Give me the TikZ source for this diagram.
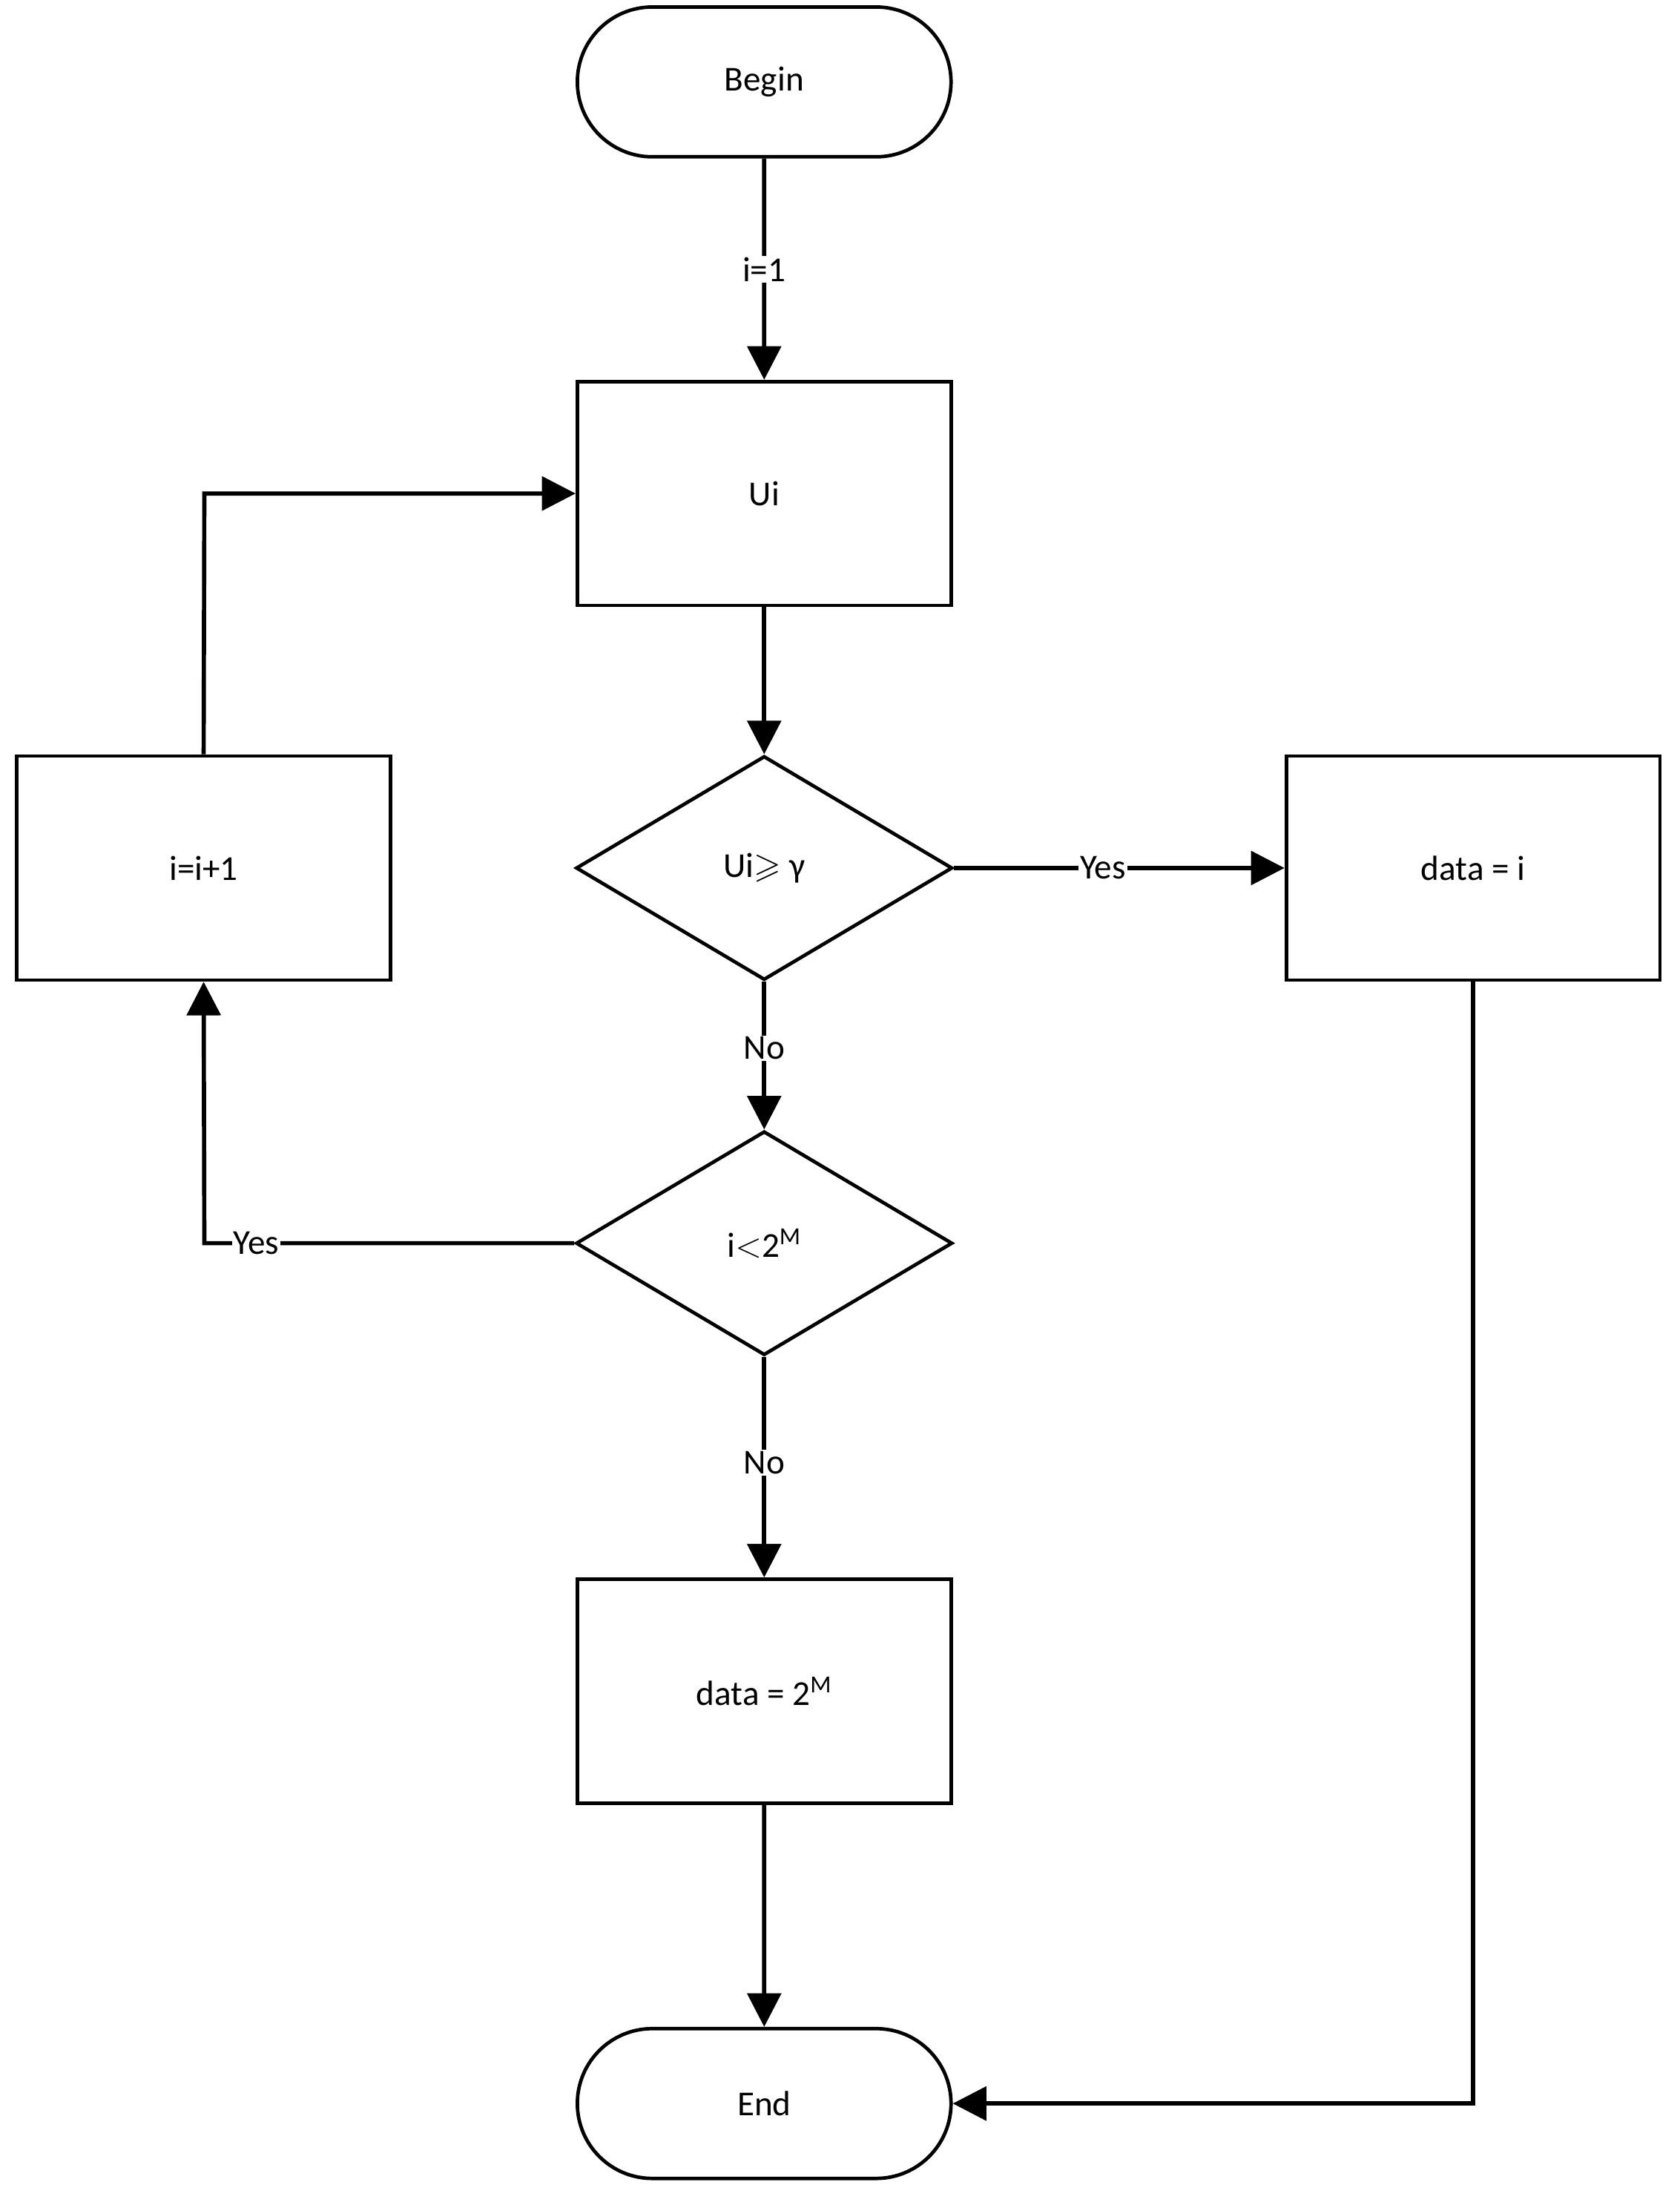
\documentclass[tikz,border=0pt]{standalone}
\usepackage{amssymb}
\usepackage{fontspec}
\setmainfont{Carlito}
\usetikzlibrary{arrows.meta,shapes.geometric,shapes.misc}
\begin{document}
\begin{tikzpicture}[x=1pt,y=-1pt,
  every node/.style={font=\fontsize{25}{30}\selectfont},
  box/.style={draw,line width=2.5pt,minimum width=267pt,minimum height=160pt,inner sep=0pt},
  term/.style={draw,line width=2.5pt,rounded rectangle,minimum width=267pt,minimum height=107pt,inner sep=0pt},
  dia/.style={draw,line width=2.5pt,diamond,aspect=1.68,minimum width=269pt,minimum height=160pt,inner sep=0pt},
  line/.style={line width=3pt},
  arr/.style={line width=3pt,-{Triangle[length=24pt,width=24pt]}},
  lab/.style={fill=white,inner sep=1pt}]
\useasboundingbox (0,0) rectangle (1200,1575);
\node[term] (begin) at (546,58.5) {Begin};
\node[box] (ui) at (546,352.5) {Ui};
\node[dia] (d1) at (546,620) {Ui$\geqslant$ γ};
\node[box] (inc) at (145.5,620) {i=i+1};
\node[box] (di) at (1052.5,620) {data = i};
\node[dia] (d2) at (546,888) {i$<$2\textsuperscript{M}};
\node[box] (dm) at (546,1208) {data = 2\textsuperscript{M}};
\node[term] (end) at (546,1502.5) {End};
\draw[arr] (begin) -- node[lab]{i=1} (ui);
\draw[arr] (ui) -- (d1);
\draw[arr] (d1) -- node[lab,pos=0.45]{Yes} (di);
\draw[arr] (d1) -- node[lab,pos=0.45]{No} (d2);
\draw[arr] (d2) -- node[lab,pos=0.48]{No} (dm);
\draw[arr] (dm) -- (end);
\coordinate (c1) at (146,888);
\draw[arr] (d2.west) -- node[lab,pos=0.86]{Yes} (c1) -- (inc.south);
\coordinate (c2) at (146,352.5);
\draw[arr] (inc.north) -- (c2) -- (ui.west);
\coordinate (c3) at (1052.5,1502.5);
\draw[arr] (di.south) -- (c3) -- (end.east);
\end{tikzpicture}
\end{document}
